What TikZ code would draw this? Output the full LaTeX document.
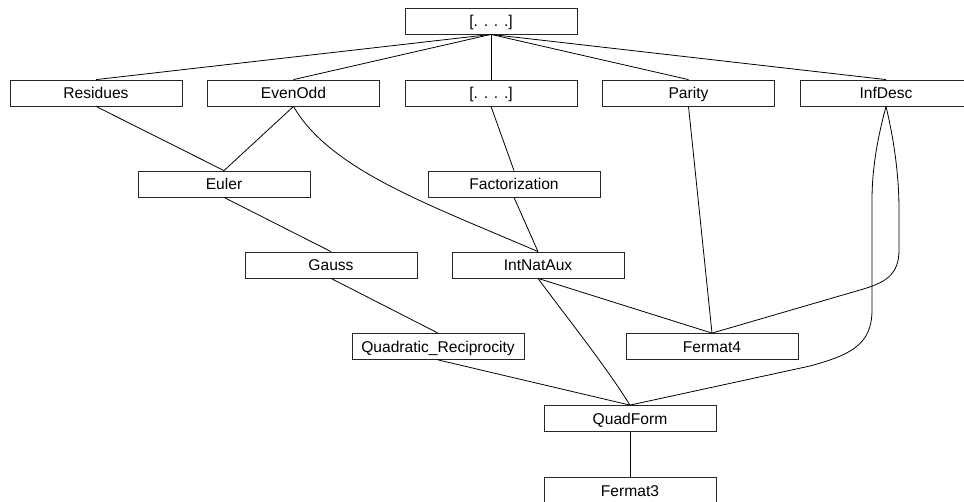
\documentclass[tikz,border=0pt]{standalone}
\usepackage{fontspec}
\setmainfont{Liberation Sans}
\begin{document}
\begin{tikzpicture}[x=1pt,y=-1pt,
  box/.style={draw=black!85, line width=0.8pt, rectangle, minimum width=172pt, minimum height=26pt, inner sep=0pt,
    font=\fontsize{15.6}{18}\selectfont, text height=11.1pt, text depth=0pt},
  edge/.style={draw=black, line width=0.8pt}]
\useasboundingbox (0,0) rectangle (964,501);
\node[box] (top) at (491,21) {[. . . .]};
\node[box] (res) at (96,93) {Residues};
\node[box] (eo) at (293.5,93) {EvenOdd};
\node[box] (dots) at (491,93) {[. . . .]};
\node[box] (par) at (688.5,93) {Parity};
\node[box] (inf) at (886,93) {InfDesc};
\node[box] (eul) at (224,184) {Euler};
\node[box] (fac) at (514,184) {Factorization};
\node[box] (gau) at (331,265) {Gauss};
\node[box] (ina) at (538,265) {IntNatAux};
\node[box] (qr) at (438,346.5) {Quadratic\_Reciprocity};
\node[box] (f4) at (712,346.5) {Fermat4};
\node[box] (qf) at (630,418.5) {QuadForm};
\node[box] (f3) at (630,490.5) {Fermat3};

\coordinate (a1) at (899,210);
\coordinate (a2) at (899,250);
\coordinate (a3) at (860,290);
\coordinate (b1) at (872,200);
\coordinate (b2) at (872,310);
\coordinate (b3) at (810,366);

\draw[edge] (top.south) -- (res.north);
\draw[edge] (top.south) -- (eo.north);
\draw[edge] (top.south) -- (dots.north);
\draw[edge] (top.south) -- (par.north);
\draw[edge] (top.south) -- (inf.north);
\draw[edge] (res.south) -- (eul.north);
\draw[edge] (eo.south) -- (eul.north);
\draw[edge] (eo.south) .. controls (330,170) and (430,205) .. (ina.north);
\draw[edge] (dots.south) -- (fac.north);
\draw[edge] (fac.south) -- (ina.north);
\draw[edge] (eul.south) -- (gau.north);
\draw[edge] (par.south) -- (f4.north);
\draw[edge] (inf.south) .. controls (894,140) and (899,175) .. (a1) -- (a2) .. controls (899,275) and (885,283) .. (a3) -- (f4.north);
\draw[edge] (inf.south) .. controls (877,140) and (872,170) .. (b1) -- (b2) .. controls (872,345) and (850,355) .. (b3) -- (qf.north);
\draw[edge] (gau.south) -- (qr.north);
\draw[edge] (ina.south) -- (f4.north);
\draw[edge] (ina.south) .. controls (565,315) and (605,365) .. (qf.north);
\draw[edge] (qr.south) -- (qf.north);
\draw[edge] (qf.south) -- (f3.north);
\end{tikzpicture}
\end{document}
